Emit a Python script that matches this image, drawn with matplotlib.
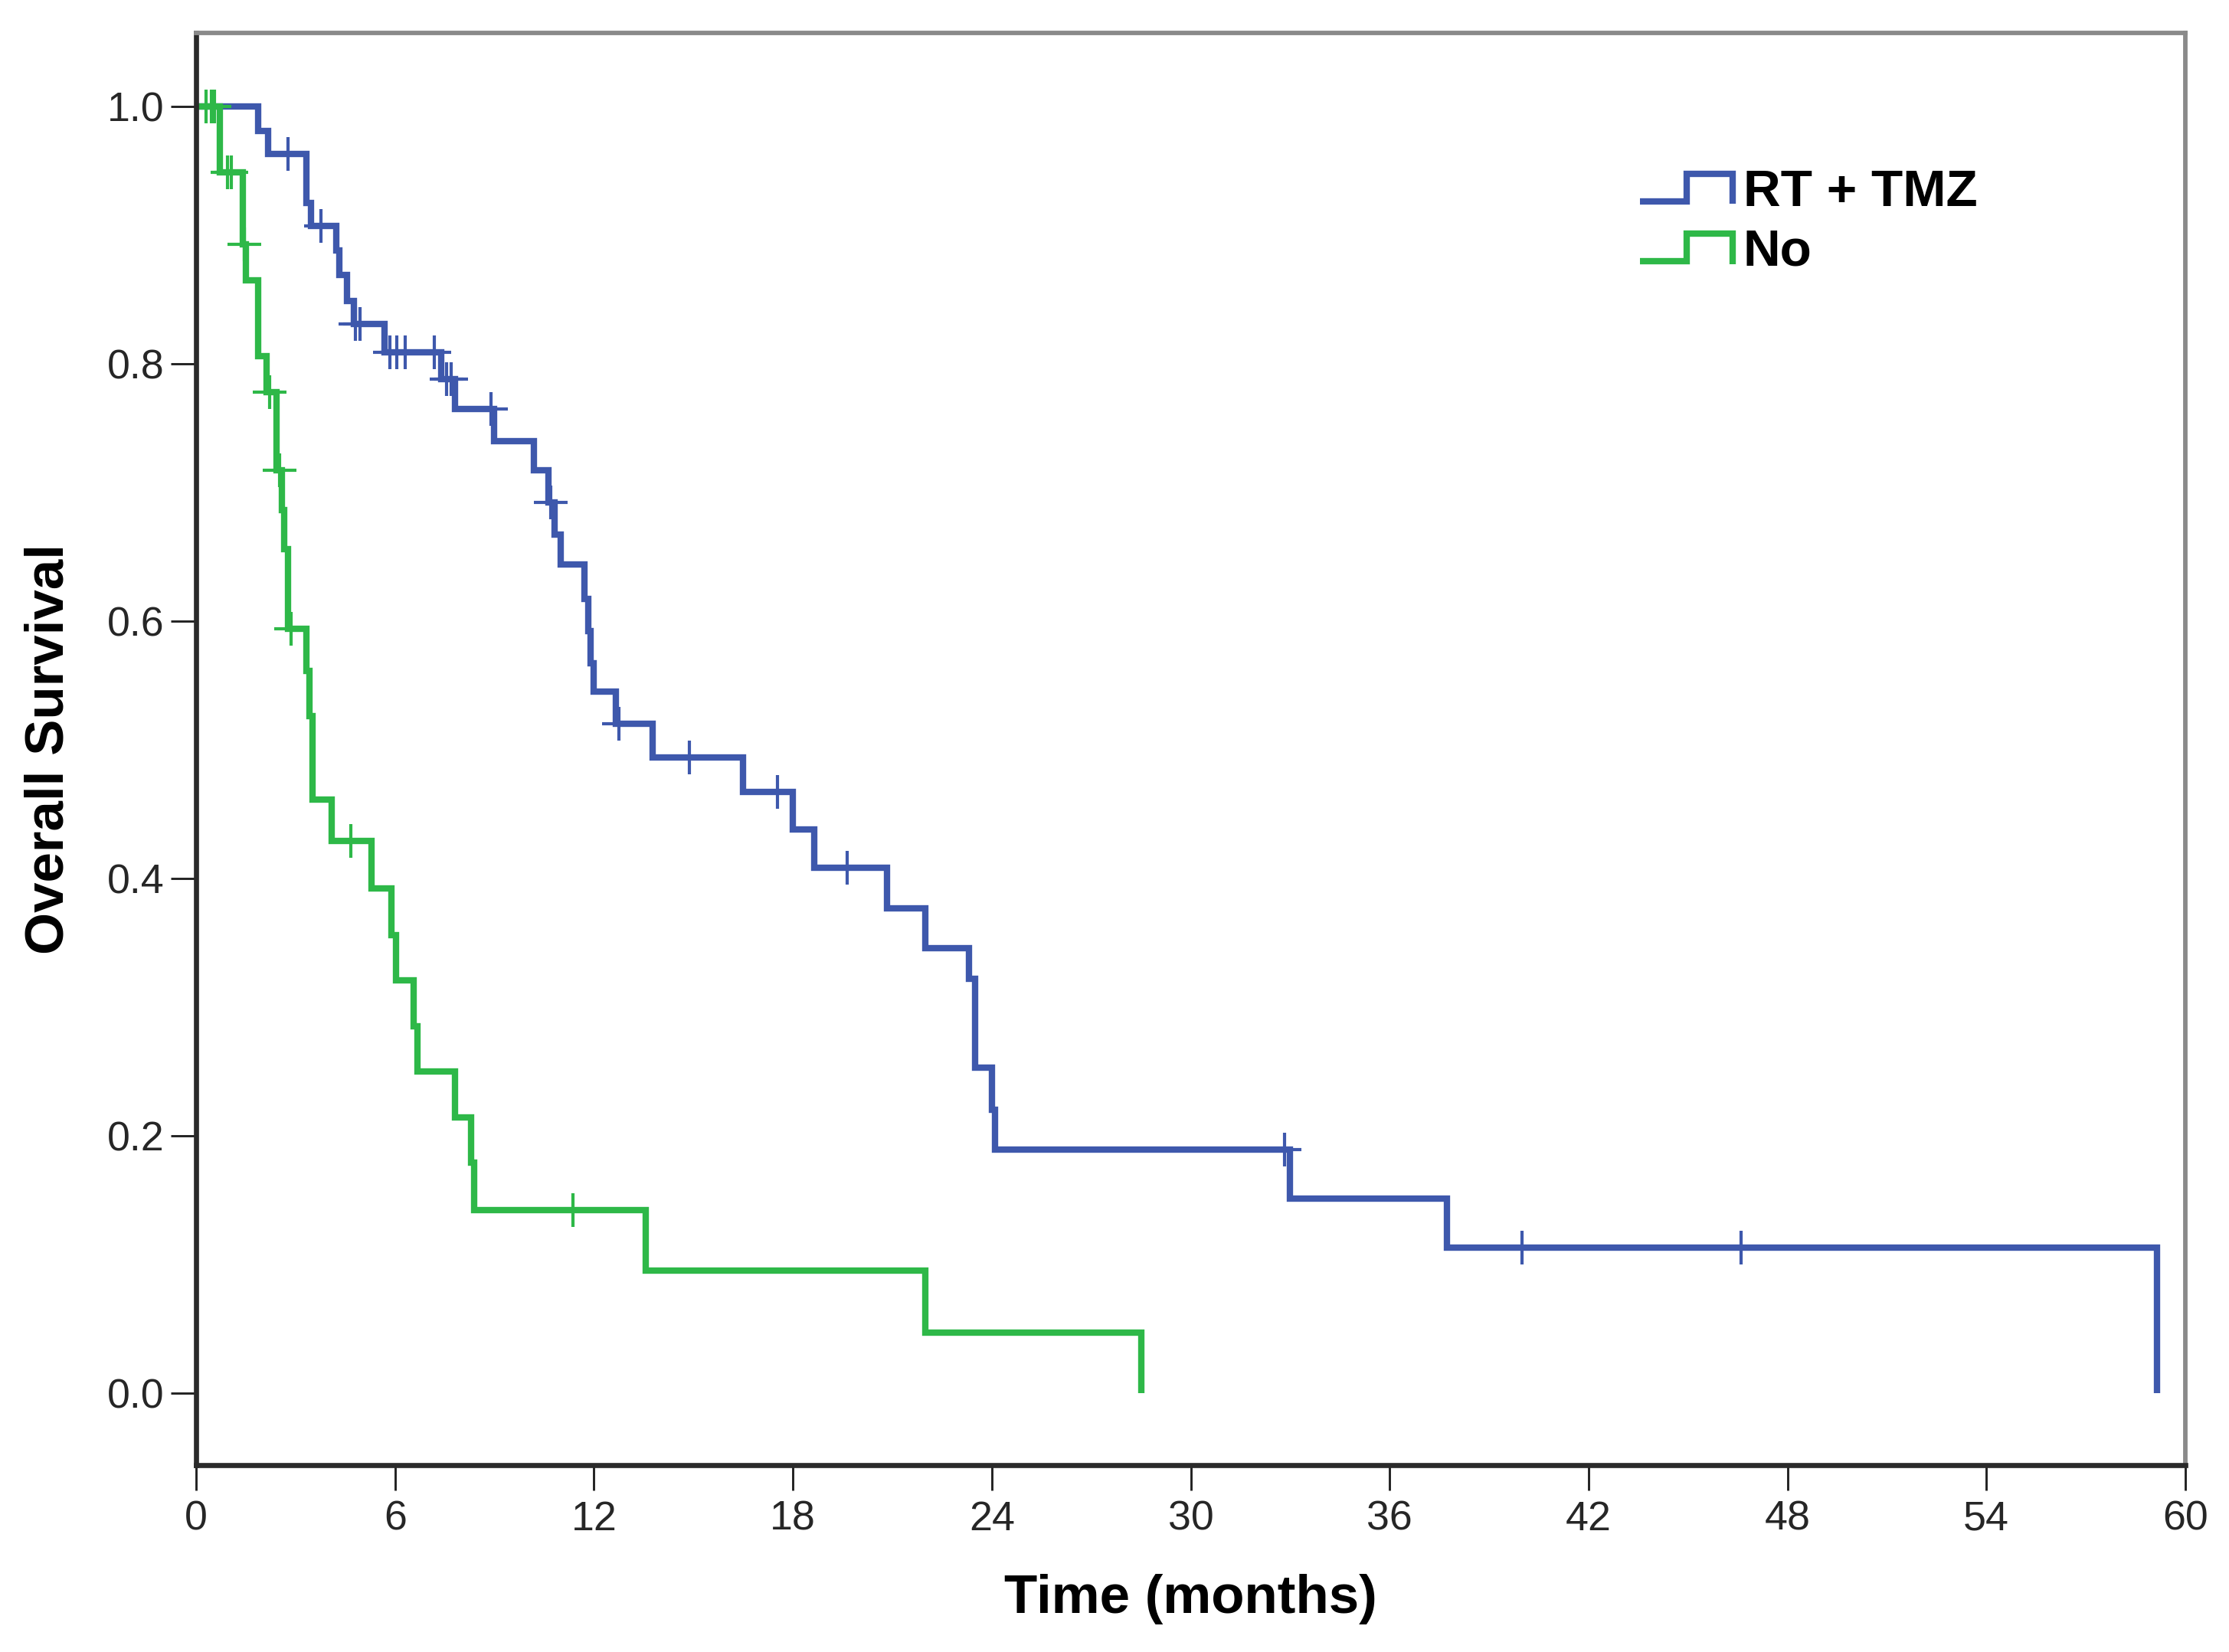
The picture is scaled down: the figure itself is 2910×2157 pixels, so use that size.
import numpy as np
import matplotlib
matplotlib.use('Agg')
import matplotlib.pyplot as plt
from matplotlib.legend_handler import HandlerBase
from matplotlib.lines import Line2D

# ---------------- data ----------------
groups = ['RT + TMZ', 'No']
colors = ['#3E58AC', '#2EB848']

rt_times = [0, 1.87, 2.18, 3.32, 3.47, 4.22, 4.32, 4.55, 4.76, 5.68, 7.40, 7.80,
            8.99, 10.18, 10.62, 10.80, 11.00, 11.72, 11.83, 11.90, 11.98, 12.65,
            13.78, 16.5, 18.0, 18.65, 20.85, 22.0, 23.3, 23.5, 24.0, 24.1, 33.0,
            37.72, 59.15]
rt_surv = [1.0, 0.981, 0.963, 0.925, 0.907, 0.888, 0.869, 0.849, 0.831, 0.809,
           0.788, 0.765, 0.740, 0.717, 0.692, 0.667, 0.644, 0.617, 0.592, 0.567,
           0.545, 0.520, 0.494, 0.467, 0.438, 0.408, 0.377, 0.346, 0.322, 0.253,
           0.220, 0.189, 0.151, 0.113, 0.0]
rt_censored = [2.78, 3.76, 4.8, 4.95, 5.85, 6.05, 6.3, 7.19, 7.55, 7.7, 8.89,
               10.7, 12.75, 14.87, 17.53, 19.63, 32.83, 40.0, 46.6]

no_times = [0, 0.72, 1.40, 1.50, 1.87, 2.12, 2.42, 2.59, 2.66, 2.76, 3.32, 3.42,
            3.52, 4.09, 5.28, 5.90, 6.03, 6.57, 6.67, 7.81, 8.29, 8.39, 13.56,
            22.0, 28.5]
no_surv = [1.0, 0.949, 0.893, 0.865, 0.806, 0.778, 0.717, 0.686, 0.656, 0.594,
           0.561, 0.526, 0.461, 0.429, 0.392, 0.356, 0.321, 0.285, 0.250, 0.214,
           0.179, 0.142, 0.095, 0.047, 0.0]
no_censored = [0.3, 0.45, 0.55, 0.95, 1.05, 1.45, 2.22, 2.52, 2.86, 4.66, 11.36]

x_ticks = [0, 6, 12, 18, 24, 30, 36, 42, 48, 54, 60]
y_ticks = [0.0, 0.2, 0.4, 0.6, 0.8, 1.0]
x_label = 'Time (months)'
y_label = 'Overall Survival'

series = [(rt_times, rt_surv, rt_censored), (no_times, no_surv, no_censored)]

# ---------------- figure ----------------
plt.rcParams['font.family'] = ['Liberation Sans', 'DejaVu Sans']
fig = plt.figure(figsize=(9.7, 7.19), dpi=300)
ax = fig.add_axes([0.088, 0.1131, 0.8924, 0.8669])

LW = 2.0
handles = []
for (t, s, c), col, name in zip(series, colors, groups):
    t = np.asarray(t, float)
    s = np.asarray(s, float)
    ax.step(t, s, where='post', color=col, lw=LW, solid_joinstyle='miter',
            solid_capstyle='butt')
    c = np.asarray(c, float)
    idx = np.searchsorted(t, c, side='right') - 1
    ax.plot(c, s[idx], ls='none', marker='+', ms=10.5, mew=1.0, color=col)
    handles.append(Line2D([], [], color=col, lw=LW, label=name))

ax.set_xlim(0, 60)
ax.set_ylim(-0.056, 1.057)
ax.set_xticks(x_ticks)
ax.set_yticks(y_ticks)
ax.set_xticklabels([str(v) for v in x_ticks])
ax.set_yticklabels(['%.1f' % v for v in y_ticks])
ax.tick_params(axis='both', direction='out', length=8, width=0.7,
               color='#222222', labelsize=12.9, labelcolor='#262626')
ax.tick_params(axis='y', pad=2)
ax.tick_params(axis='x', pad=3)

for side in ['left', 'bottom']:
    ax.spines[side].set_color('#2a2a2a')
    ax.spines[side].set_linewidth(1.6)
for side in ['top', 'right']:
    ax.spines[side].set_color('#8a8a8a')
    ax.spines[side].set_linewidth(1.4)

ax.set_xlabel(x_label, fontsize=17, fontweight='bold', labelpad=11)
ax.set_ylabel(y_label, fontsize=17, fontweight='bold', labelpad=10)


class StepHandler(HandlerBase):
    def create_artists(self, legend, orig_handle, xdescent, ydescent, width,
                       height, fontsize, trans):
        xs = np.array([0.0, 0.5, 0.5, 1.0, 1.0]) * width - xdescent
        ys = np.array([0.12, 0.12, 0.88, 0.88, 0.05]) * height - ydescent
        ln = Line2D(xs, ys, color=orig_handle.get_color(), lw=LW,
                    solid_joinstyle='miter', solid_capstyle='butt')
        ln.set_transform(trans)
        return [ln]


leg = ax.legend(handles=handles, loc='upper left',
                bbox_to_anchor=(0.7258, 0.905), frameon=False, borderpad=0,
                borderaxespad=0, handlelength=1.8, handleheight=0.7,
                handletextpad=0.2, labelspacing=0.24,
                prop={'size': 16.2, 'weight': 'bold'},
                handler_map={Line2D: StepHandler()})

fig.savefig('out.png', dpi=300)
